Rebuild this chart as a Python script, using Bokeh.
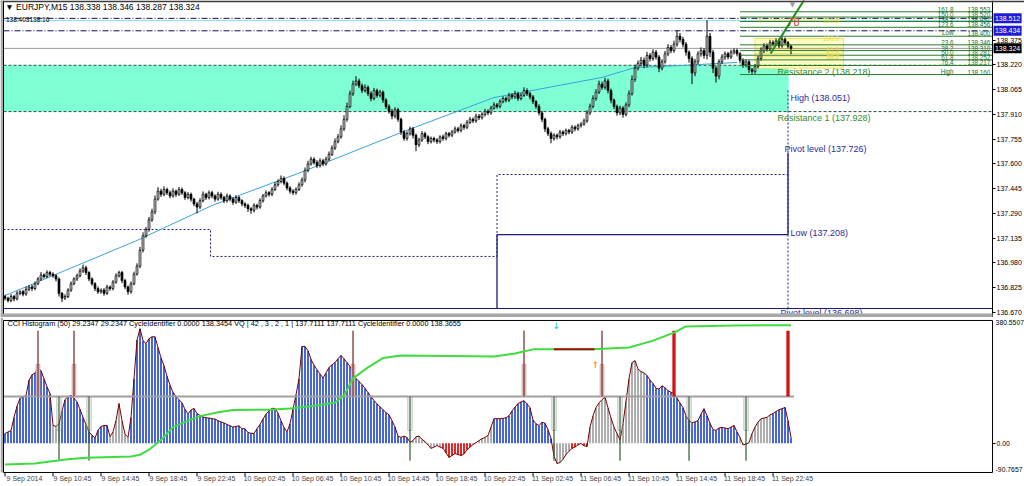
from bokeh.plotting import figure
from bokeh.layouts import column
from bokeh.models import Range1d, LinearAxis, FixedTicker, BoxAnnotation
from bokeh.core.properties import value
from bokeh.embed import file_html
from bokeh.resources import INLINE

FONT = "Liberation Sans"

# ---------------- price data (EURJPY M15), one value per bar ----------------
FIRST_OPEN = 136.770
CLOSE = [
    136.760, 136.745, 136.770, 136.755, 136.790, 136.800, 136.785, 136.815, 136.830, 136.820, 136.850, 136.880, 136.905, 136.895, 136.920, 136.910,
    136.900, 136.880, 136.790, 136.760, 136.770, 136.810, 136.850, 136.880, 136.900, 136.930, 136.950, 136.920, 136.880, 136.850, 136.820, 136.800,
    136.810, 136.790, 136.830, 136.820, 136.860, 136.900, 136.920, 136.870, 136.830, 136.800, 136.850, 136.910, 136.960, 137.060, 137.150, 137.190,
    137.250, 137.300, 137.380, 137.430, 137.410, 137.440, 137.420, 137.400, 137.430, 137.410, 137.440, 137.420, 137.390, 137.410, 137.380, 137.350,
    137.330, 137.370, 137.410, 137.390, 137.420, 137.400, 137.380, 137.410, 137.390, 137.370, 137.400, 137.380, 137.360, 137.390, 137.370, 137.350,
    137.340, 137.320, 137.310, 137.340, 137.330, 137.370, 137.400, 137.420, 137.410, 137.440, 137.470, 137.490, 137.510, 137.480, 137.450, 137.430,
    137.420, 137.440, 137.470, 137.500, 137.560, 137.600, 137.630, 137.610, 137.590, 137.620, 137.600, 137.630, 137.660, 137.700, 137.740, 137.770,
    137.820, 137.880, 137.960, 138.040, 138.100, 138.120, 138.090, 138.060, 138.080, 138.040, 138.010, 138.060, 138.030, 138.050, 138.000, 137.960,
    137.930, 137.900, 137.940, 137.880, 137.800, 137.760, 137.790, 137.820, 137.780, 137.720, 137.750, 137.790, 137.770, 137.740, 137.760, 137.750,
    137.740, 137.770, 137.760, 137.790, 137.780, 137.800, 137.820, 137.810, 137.840, 137.830, 137.860, 137.880, 137.870, 137.900, 137.890, 137.910,
    137.930, 137.920, 137.950, 137.970, 137.960, 137.990, 138.010, 138.000, 138.030, 138.020, 138.040, 138.010, 138.030, 138.060, 138.040, 138.020,
    137.990, 137.960, 137.920, 137.880, 137.820, 137.790, 137.760, 137.780, 137.770, 137.800, 137.790, 137.810, 137.800, 137.830, 137.820, 137.840,
    137.850, 137.870, 137.920, 137.960, 138.010, 138.050, 138.100, 138.080, 138.120, 138.060, 138.000, 137.960, 137.920, 137.950, 137.910, 137.970,
    138.040, 138.130, 138.200, 138.230, 138.250, 138.220, 138.280, 138.260, 138.300, 138.270, 138.200, 138.240, 138.290, 138.330, 138.310, 138.350,
    138.400, 138.380, 138.350, 138.300, 138.260, 138.170, 138.240, 138.290, 138.310, 138.280, 138.400, 138.300, 138.200, 138.150, 138.240, 138.270,
    138.290, 138.270, 138.300, 138.310, 138.290, 138.250, 138.220, 138.240, 138.190, 138.180, 138.210, 138.260, 138.310, 138.340, 138.320, 138.360,
    138.350, 138.370, 138.340, 138.380, 138.360, 138.338, 138.324,
]
# wick lengths above / below the body, in thousandths of a yen
UPPER_WICK = [
    12, 8, 15, 10, 14, 9, 12, 16, 10, 13, 15, 12, 18, 10, 14, 11,
    12, 9, 10, 8, 14, 12, 15, 10, 13, 16, 20, 12, 9, 11, 10, 13,
    10, 12, 14, 9, 13, 15, 12, 10, 11, 9, 14, 16, 18, 20, 22, 15,
    18, 20, 22, 25, 15, 20, 12, 14, 18, 10, 16, 12, 10, 14, 11, 9,
    12, 15, 18, 10, 14, 12, 10, 16, 12, 11, 15, 10, 12, 14, 10, 9,
    10, 12, 9, 14, 11, 15, 12, 14, 10, 15, 16, 14, 18, 12, 10, 11,
    12, 14, 15, 16, 18, 20, 15, 12, 14, 16, 12, 15, 18, 16, 20, 18,
    22, 25, 24, 20, 22, 30, 15, 14, 18, 12, 15, 16, 12, 14, 10, 12,
    14, 15, 16, 12, 10, 12, 15, 14, 12, 10, 14, 16, 12, 10, 12, 11,
    12, 10, 14, 12, 11, 13, 15, 12, 14, 12, 15, 14, 12, 15, 13, 14,
    15, 12, 14, 16, 12, 15, 14, 12, 16, 14, 18, 12, 15, 20, 14, 12,
    12, 10, 14, 12, 10, 12, 14, 12, 10, 13, 11, 12, 10, 14, 12, 13,
    12, 14, 16, 18, 20, 18, 22, 15, 20, 14, 12, 10, 12, 15, 12, 16,
    20, 25, 22, 18, 20, 16, 22, 15, 18, 14, 12, 16, 18, 20, 15, 22,
    36, 20, 15, 14, 12, 15, 18, 16, 20, 15, 100, 20, 15, 12, 16, 18,
    15, 12, 16, 14, 12, 10, 12, 14, 10, 12, 15, 18, 20, 16, 14, 18,
    15, 16, 14, 15, 12, 10, 8,
]
LOWER_WICK = [
    14, 12, 10, 15, 9, 12, 14, 10, 12, 15, 11, 9, 13, 12, 10, 14,
    12, 15, 20, 25, 12, 10, 11, 9, 12, 10, 12, 15, 14, 12, 16, 14,
    12, 15, 10, 14, 12, 10, 11, 16, 14, 18, 12, 10, 9, 12, 14, 12,
    14, 12, 15, 10, 16, 12, 14, 15, 11, 16, 10, 14, 15, 12, 16, 14,
    40, 12, 10, 15, 12, 14, 16, 10, 14, 15, 12, 14, 16, 10, 14, 15,
    16, 20, 22, 14, 15, 10, 12, 10, 14, 12, 10, 12, 11, 14, 15, 16,
    14, 12, 10, 12, 15, 12, 10, 14, 16, 12, 14, 10, 12, 10, 12, 11,
    12, 14, 15, 12, 14, 12, 15, 16, 12, 15, 18, 12, 16, 14, 18, 16,
    15, 20, 14, 16, 18, 15, 14, 12, 20, 40, 15, 12, 14, 16, 12, 15,
    14, 12, 15, 12, 14, 12, 10, 14, 12, 15, 12, 10, 14, 12, 15, 12,
    12, 14, 12, 10, 14, 12, 10, 15, 12, 14, 12, 15, 12, 10, 14, 16,
    15, 14, 16, 18, 20, 15, 30, 14, 16, 12, 15, 12, 14, 12, 15, 12,
    12, 10, 12, 14, 12, 15, 12, 16, 14, 18, 20, 16, 18, 14, 20, 12,
    15, 12, 16, 14, 18, 20, 15, 18, 14, 16, 25, 14, 12, 15, 16, 14,
    15, 18, 20, 22, 25, 70, 20, 16, 18, 20, 25, 30, 30, 40, 20, 16,
    18, 15, 12, 14, 16, 20, 18, 15, 20, 22, 15, 12, 14, 15, 16, 12,
    14, 12, 15, 12, 14, 14, 37,
]

# slow moving average (light blue) read at a few bars
MA_I = [0, 44, 69, 99, 132, 163, 199, 210, 226, 244]
MA_V = [136.776, 137.121, 137.340, 137.550, 137.797, 138.016, 138.142, 138.204, 138.217, 138.236]

# pivot / resistance levels
R2, R1 = 138.218, 137.928
ZONE_END = 261.2
PIVOT_LOW_LINE = 136.695
BID = 138.324
HLINE_DASHDOT = [138.512, 138.434]
HLINE_CYAN = 138.499
DOT_STEP_X = [-0.5, 68.5, 68.5, 164, 164, 261]
DOT_STEP_Y = [137.190, 137.190, 137.021, 137.021, 137.534, 137.534]
DOT_VERT = (261, 138.060, 136.695)
SOLID_STEP_X = [164, 164, 261, 261]
SOLID_STEP_Y = [136.695, 137.158, 137.158, 137.670]
PIVOT_TEXT = ["Resistance 2 (138.218)", "High (138.051)", "Resistance 1 (137.928)",
              "Pivot level (137.726)", "Low (137.208)", "Pivot level (136.698)"]
PIVOT_TEXT_X = [257.5, 261.8, 257.5, 259.8, 261.8, 258.5]
PIVOT_TEXT_Y = [138.179, 138.016, 137.891, 137.691, 137.165, 136.668]
PIVOT_TEXT_C = ["#2E8B2E", "#2B2B9B", "#2E8B2E", "#2B2B9B", "#2B2B9B", "#2B2B9B"]

# fibonacci (green) levels on the right
FIB_LABELS = ["161.8", "150.0", "138.2", "123.6", "Low", "23.6", "38.2", "50.0", "61.8", "76.4", "High"]
FIB_PRICES = [138.553, 138.520, 138.492, 138.456, 138.400, 138.346, 138.310, 138.281, 138.252, 138.217, 138.160]
FIB_START = 245
# second (yellow) fibonacci
YFIB_LABELS = ["161.8", "100.0", "61.8", "50.0", "38.2"]
YFIB_PRICES = [138.501, 138.386, 138.315, 138.293, 138.271]
YFIB_BASE = 138.200
YFIB_X = (250, 279.5)
TREND_X = [255.2, 266.8]
TREND_Y = [138.292, 138.640]

PRICE_TICKS = [138.375, 138.220, 138.065, 137.910, 137.755, 137.600, 137.445,
               137.290, 137.135, 136.980, 136.825, 136.670]
PRICE_BOXES = [138.512, 138.434, 138.324]
PRICE_BOX_COLORS = ["#1C1CD2", "#1C1CD2", "#000000"]

# ---------------- indicator data ----------------
CCI = [
    30, 35, 39, 80, 115, 139, 143, 148, 195, 212, 218, 232, 225, 200, 175, 154,
    55, 52, 60, 100, 135, 144, 148, 140, 128, 105, 80, 58, 35, 25, 16, 40,
    52, 55, 55, 20, 35, 70, 123, 70, 28, 18, 80, 200, 320, 355, 318, 309,
    324, 330, 330, 297, 265, 240, 208, 180, 158, 145, 135, 125, 105, 91, 103, 108,
    92, 86, 81, 79, 78, 76, 75, 70, 66, 63, 58, 54, 50, 52, 54, 45,
    45, 33, 31, 30, 45, 58, 75, 90, 100, 108, 108, 93, 70, 49, 35, 60,
    105, 150, 200, 300, 300, 287, 260, 242, 228, 215, 202, 218, 235, 243, 250, 262,
    272, 262, 250, 238, 220, 200, 192, 182, 170, 157, 145, 132, 122, 113, 104, 95,
    88, 70, 50, 22, 18, 22, 18, 3, 8, 20, 22, 12, 5, -5, -16, -12,
    -7, -12, -16, -30, -44, -38, -32, -35, -38, -33, -20, -12, -4, 2, 8, 14,
    18, 24, 50, 76, 76, 76, 77, 79, 85, 100, 112, 123, 128, 132, 122, 110,
    72, 60, 55, 65, 62, 42, 15, -40, -63, -60, -50, -35, -25, -16, -12, -5,
    -1, -8, -10, 50, 85, 111, 125, 135, 142, 110, 78, 50, 30, 10, 60, 130,
    200, 250, 256, 230, 222, 218, 210, 196, 185, 170, 168, 178, 172, 163, 158, 154,
    140, 125, 110, 85, 70, 64, 66, 70, 90, 107, 85, 62, 42, 40, 47, 49,
    47, 45, 50, 55, 35, 18, -5, -3, 2, 30, 50, 65, 76, 78, 80, 88,
    92, 98, 104, 107, 111, 70, 18,
]
CCI_STATE = ("BBBBBBBBBBBBBBBB" "GGGBBBBBBBBBBBBB" "BBBGGGGGGGBBBBBB" "BBBBBBBBBBBBBBBB"
             "BBBBBBBBBBBBBBBB" "BBBBBBBBBBBBBBBB" "BBBBBBBBBBBBBBBB" "BBBBBBBBBBBBBBBB"
             "BBBBBBBGGGGGGGGG" "GGRRRRRRRRRRGGGG" "GGGBBBBBBBBBBBBB" "BBBBBBBGGGGGGRRR"
             "RRRGGGGGGGGGGGGG" "GGGGGGBBBBBBBBBB" "BBBBBBBBBBBBBBBB" "BBBBBGGGGGGGGGGG"
             "BBBBBBB")
GREEN_I = [0, 10, 15, 21, 27, 42, 45, 48, 52, 56, 61, 65, 71, 76, 88, 95, 104, 110, 113, 116,
           121, 126, 132, 163, 170, 176, 196, 208, 216, 223, 227, 243, 262]
GREEN_V = [-66, -63, -57, -50, -45, -41, -36, -20, 10, 50, 70, 84, 96, 103, 104, 108, 117, 126, 148, 201,
           235, 264, 272, 269, 278, 291, 291, 297, 318, 343, 362, 365, 366]
CCI_LEVEL = 145
SPIKE_UP_I = [11, 23, 116, 173, 199]
SPIKE_HOT_I = [223, 261]
SPIKE_DOWN_I = [18, 28, 135, 183, 205, 228, 247]
SPIKE_TOP, SPIKE_MID, SPIKE_LOW, SPIKE_BOTTOM = 349, 245, 40, -54
RED_SEG = (183, 196.5, 291)
ARROW_DOWN = (183.8, 362)
ARROW_UP = (196.8, 241)
IND_TOP, IND_BOTTOM = 380.5507, -90.7657
IND_TOP_LABEL, IND_BOTTOM_LABEL = "380.5507", "-90.7657"
IND_TICKS = [0.0]
IND_TICK_LABELS = ["0.00"]

TICK_IDX = [0, 16, 32, 48, 64, 80, 96, 112, 128, 144, 160, 176, 192, 208, 224, 240, 256]
TICK_LABELS = ["9 Sep 2014", "9 Sep 10:45", "9 Sep 14:45", "9 Sep 18:45", "9 Sep 22:45",
               "10 Sep 02:45", "10 Sep 06:45", "10 Sep 10:45", "10 Sep 14:45", "10 Sep 18:45",
               "10 Sep 22:45", "11 Sep 02:45", "11 Sep 06:45", "11 Sep 10:45", "11 Sep 14:45",
               "11 Sep 18:45", "11 Sep 22:45"]

HEADER = "\u25bc EURJPY,M15  138.338 138.346 138.287 138.324"
SUBHEADER = "138.403138.16"
IND_HEADER = ("CCI Histogram (50) 29.2347 29.2347  CycleIdentifier 0.0000 138.3454  VQ |  42 , 3 , 2 , 1  |"
              "  137.7111 137.7111  CycleIdentifier 0.0000 138.3655")

# ---------------- derived candle geometry ----------------
n = len(CLOSE)
idx = list(range(n))
opens = [FIRST_OPEN] + CLOSE[:-1]
body_top = [max(o, c) for o, c in zip(opens, CLOSE)]
body_bot = [min(o, c) for o, c in zip(opens, CLOSE)]
highs = [t + u / 1000 for t, u in zip(body_top, UPPER_WICK)]
lows = [b - w / 1000 for b, w in zip(body_bot, LOWER_WICK)]
fills = ["white" if c > o else "black" for o, c in zip(opens, CLOSE)]

# ---------------- layout: frames cover the whole page, axes at fixed spots ----------------
W = 1024
H1, H2 = 317, 169
XMIN, XMAX = -1.5, 339.83          # 3 px per bar
AXIS_X = 329.17
BOX_X = 334.2
SCALE_LABEL_X = 330.2
XR = Range1d(XMIN, XMAX)
P_MIN, P_MAX = 136.6387, 138.6237
SEPARATOR_TOP = 136.664
I_MIN, I_MAX = -134.2, 389.8
TICK_LEN = 12.4


def base_fig(h, yr):
    f = figure(width=W, height=h, x_range=XR, y_range=yr, output_backend="svg",
               toolbar_location=None, x_axis_location=None, y_axis_location=None,
               min_border_left=0, min_border_right=0, min_border_top=0, min_border_bottom=0,
               background_fill_color="white", border_fill_color="white",
               outline_line_color=None)
    f.grid.visible = False
    return f


def right_axis(ticks, labels, size, line=True):
    ax = LinearAxis(ticker=FixedTicker(ticks=ticks),
                    major_label_overrides=dict(zip(ticks, labels)),
                    fixed_location=AXIS_X)
    ax.axis_line_color = "black" if line else None
    ax.major_tick_line_color = "black"
    ax.major_tick_out = 3
    ax.major_tick_in = 0
    ax.minor_tick_line_color = None
    ax.major_label_text_font = FONT
    ax.major_label_text_font_size = size
    ax.major_label_standoff = 1
    ax.major_label_text_color = "black"
    return ax


# ================= PRICE PANEL =================
p1 = base_fig(H1, Range1d(P_MIN, P_MAX))

p1.quad(left=[-0.5], right=[ZONE_END], bottom=[R1], top=[R2], fill_color="#7FFFD4", line_color=None)
p1.quad(left=[YFIB_X[0]], right=[YFIB_X[1]], bottom=[YFIB_BASE], top=[YFIB_PRICES[1]],
        fill_color="#FFFFC4", line_color="#F2E15A", line_width=1)

p1.segment(x0=[-0.5], x1=[AXIS_X], y0=[HLINE_CYAN], y1=[HLINE_CYAN], line_color="#8EDDEB", line_width=1)
p1.segment(x0=[-0.5] * 2, x1=[AXIS_X] * 2, y0=HLINE_DASHDOT, y1=HLINE_DASHDOT,
           line_color="#10105E", line_width=1, line_dash="6 2 1 2")
p1.segment(x0=[-0.5], x1=[AXIS_X], y0=[BID], y1=[BID], line_color="#9A9A9A", line_width=1)
p1.segment(x0=[-0.5] * 2, x1=[AXIS_X] * 2, y0=[R2, R1], y1=[R2, R1],
           line_color="#2F4F3F", line_width=1, line_dash="3 2")
p1.segment(x0=[-0.5], x1=[AXIS_X], y0=[PIVOT_LOW_LINE], y1=[PIVOT_LOW_LINE], line_color="#1A1A80", line_width=1)
p1.line(DOT_STEP_X, DOT_STEP_Y, line_color="#1A1A80", line_width=1, line_dash="2 2")
p1.segment(x0=[DOT_VERT[0]], x1=[DOT_VERT[0]], y0=[DOT_VERT[1]], y1=[DOT_VERT[2]],
           line_color="#1A1A80", line_width=1, line_dash="2 2")
p1.line(SOLID_STEP_X, SOLID_STEP_Y, line_color="#1A1A80", line_width=1.3)

# yellow fib levels
p1.segment(x0=[YFIB_X[0]] * len(YFIB_PRICES), x1=[YFIB_X[1]] * len(YFIB_PRICES),
           y0=YFIB_PRICES, y1=YFIB_PRICES, line_color="#F2E15A", line_width=1)

p1.line(MA_I, MA_V, line_color="#3BA3D9", line_width=1)

# candles
p1.segment(x0=idx, x1=idx, y0=lows, y1=highs, line_color="black", line_width=1)
p1.vbar(x=idx, width=0.6, top=body_top, bottom=body_bot, fill_color=fills,
        line_color="black", line_width=0.8)

# green fib lines + labels
nf = len(FIB_PRICES)
p1.segment(x0=[FIB_START] * nf, x1=[AXIS_X] * nf, y0=FIB_PRICES, y1=FIB_PRICES,
           line_color="#2A7A2A", line_width=1)
p1.text(x=[316.2] * nf, y=FIB_PRICES, text=FIB_LABELS, text_align="right", text_baseline="bottom",
        text_font=value(FONT), text_font_size="6.3px", text_color="#1F6F1F")
p1.text(x=[320.8] * nf, y=FIB_PRICES, text=[f"{v:.3f}" for v in FIB_PRICES], text_align="left",
        text_baseline="bottom", text_font=value(FONT), text_font_size="6.3px", text_color="#1F6F1F")
p1.text(x=[YFIB_X[1] - 1.5] * len(YFIB_PRICES), y=YFIB_PRICES, text=YFIB_LABELS, text_align="right",
        text_baseline="middle", text_font=value(FONT), text_font_size="6.5px", text_color="#E6D35A")

p1.line(TREND_X, TREND_Y, line_color="#1E8C1E", line_width=2)
p1.text(x=[262.8], y=[138.486], text=["78"], text_align="center", text_baseline="middle",
        text_font=value(FONT), text_font_size="11px", text_color="#C04848")
p1.text(x=[262.5], y=[138.595], text=["\u25bc"], text_align="center", text_baseline="middle",
        text_font=value("DejaVu Sans"), text_font_size="7px", text_color="#A0A0A0")

p1.text(x=PIVOT_TEXT_X, y=PIVOT_TEXT_Y, text=PIVOT_TEXT, text_color=PIVOT_TEXT_C,
        text_align="left", text_baseline="middle", text_font=value(FONT), text_font_size="9px")

p1.text(x=[0.1], y=[138.580], text=[HEADER], text_align="left", text_baseline="middle",
        text_font=value(FONT), text_font_size="8.5px", text_color="black")
p1.text(x=[0.3], y=[138.505], text=[SUBHEADER], text_align="left", text_baseline="middle",
        text_font=value(FONT), text_font_size="6.5px", text_color="black")

# window borders and panel separator
p1.add_layout(BoxAnnotation(left=XMIN, right=XMAX, bottom=138.612, top=P_MAX,
                            fill_color="#3C3C3C", fill_alpha=1, line_color=None))
p1.add_layout(BoxAnnotation(left=XMIN, right=-0.7, bottom=P_MIN, top=P_MAX,
                            fill_color="#A8A8A8", fill_alpha=1, line_color=None))
p1.segment(x0=[-0.5], x1=[-0.5], y0=[P_MIN], y1=[P_MAX], line_color="black", line_width=1)
p1.add_layout(BoxAnnotation(left=XMIN, right=AXIS_X, bottom=P_MIN, top=SEPARATOR_TOP,
                            fill_color="#A8A8A8", fill_alpha=1, line_color=None))

# price labels of the horizontal lines, drawn on the axis
p1.rect(x=[BOX_X] * len(PRICE_BOXES), y=PRICE_BOXES, width=28, height=10, width_units="screen",
        height_units="screen", fill_color=PRICE_BOX_COLORS, line_color=None)
p1.text(x=[BOX_X] * len(PRICE_BOXES), y=PRICE_BOXES, text=[f"{v:.3f}" for v in PRICE_BOXES],
        text_align="center", text_baseline="middle", text_font=value(FONT), text_font_size="7px",
        text_color="white")

p1.add_layout(right_axis(PRICE_TICKS, [f"{t:.3f}" for t in PRICE_TICKS], "7px"), "right")

# ================= INDICATOR PANEL =================
p2 = base_fig(H2, Range1d(I_MIN, I_MAX))

state_color = {"B": "#3A5CD6", "G": "#A8A8A8", "R": "#E01818"}
p2.vbar(x=idx, top=CCI, bottom=0, width=0.62, fill_color=[state_color[s] for s in CCI_STATE],
        line_color=None)
p2.line(idx, CCI, line_color="#7A0000", line_width=1)
p2.segment(x0=[-0.5], x1=[n], y0=[CCI_LEVEL], y1=[CCI_LEVEL], line_color="#A0A0A0", line_width=2)

# cycle spikes
nu = len(SPIKE_UP_I)
p2.vbar(x=SPIKE_UP_I, top=[SPIKE_MID] * nu, bottom=[CCI_LEVEL] * nu, width=1.3,
        fill_color="#E2C8C8", line_color="#B89898", line_width=0.6)
p2.segment(x0=SPIKE_UP_I, x1=SPIKE_UP_I, y0=[CCI_LEVEL] * nu, y1=[SPIKE_TOP] * nu,
           line_color="#7A2020", line_width=1.2)
nh = len(SPIKE_HOT_I)
p2.vbar(x=SPIKE_HOT_I, top=[SPIKE_TOP] * nh, bottom=[CCI_LEVEL] * nh, width=1.1,
        fill_color="#D01515", line_color=None)
nd = len(SPIKE_DOWN_I)
p2.vbar(x=SPIKE_DOWN_I, top=[CCI_LEVEL] * nd, bottom=[SPIKE_LOW] * nd, width=1.4,
        fill_color=None, line_color="#A8A8A8", line_width=0.8)
p2.segment(x0=SPIKE_DOWN_I, x1=SPIKE_DOWN_I, y0=[CCI_LEVEL] * nd, y1=[SPIKE_BOTTOM] * nd,
           line_color="#2E5E2E", line_width=1.2)

p2.line(GREEN_I, GREEN_V, line_color="#3EDC3E", line_width=2)
p2.segment(x0=[RED_SEG[0]], x1=[RED_SEG[1]], y0=[RED_SEG[2]], y1=[RED_SEG[2]],
           line_color="#A01010", line_width=2)
p2.text(x=[ARROW_DOWN[0]], y=[ARROW_DOWN[1]], text=["\u2193"], text_align="center",
        text_baseline="middle", text_font=value("DejaVu Sans"), text_font_size="9px",
        text_color="#38C8E8", text_font_style="bold")
p2.text(x=[ARROW_UP[0]], y=[ARROW_UP[1]], text=["\u2191"], text_align="center",
        text_baseline="middle", text_font=value("DejaVu Sans"), text_font_size="9px",
        text_color="#E89A3A", text_font_style="bold")

p2.text(x=[0.8], y=[371], text=[IND_HEADER], text_align="left", text_baseline="middle",
        text_font=value(FONT), text_font_size="7.3px", text_color="black")

# window borders of the indicator
p2.add_layout(BoxAnnotation(left=XMIN, right=-0.7, bottom=IND_BOTTOM, top=I_MAX,
                            fill_color="#A8A8A8", fill_alpha=1, line_color=None))
p2.segment(x0=[-0.5], x1=[AXIS_X], y0=[IND_TOP], y1=[IND_TOP], line_color="black", line_width=1)
p2.segment(x0=[-0.5], x1=[-0.5], y0=[IND_BOTTOM], y1=[IND_TOP], line_color="black", line_width=1)
p2.segment(x0=[-0.5], x1=[AXIS_X], y0=[IND_BOTTOM], y1=[IND_BOTTOM], line_color="black", line_width=1)
p2.segment(x0=[AXIS_X], x1=[AXIS_X], y0=[IND_BOTTOM], y1=[IND_TOP], line_color="black", line_width=1)
# time tick marks hanging under the axis line
p2.segment(x0=TICK_IDX, x1=TICK_IDX, y0=[IND_BOTTOM] * len(TICK_IDX),
           y1=[IND_BOTTOM - TICK_LEN] * len(TICK_IDX), line_color="black", line_width=1)
# scale bounds written inside the window, as MetaTrader does
p2.text(x=[SCALE_LABEL_X] * 2, y=[IND_TOP, IND_BOTTOM], text=[IND_TOP_LABEL, IND_BOTTOM_LABEL],
        text_align="left", text_baseline=["top", "bottom"], text_font=value(FONT),
        text_font_size="6.8px", text_color="black")

p2.add_layout(right_axis(IND_TICKS, IND_TICK_LABELS, "6.8px", line=False), "right")

LABEL_SHIFT = 6.5
label_pos = [t + LABEL_SHIFT for t in TICK_IDX]
ax_labels = LinearAxis(ticker=FixedTicker(ticks=label_pos),
                       major_label_overrides=dict(zip(label_pos, TICK_LABELS)),
                       fixed_location=IND_BOTTOM,
                       major_label_text_font=FONT, major_label_text_font_size="7px",
                       major_label_standoff=3, major_tick_out=0, major_tick_in=0,
                       major_tick_line_color=None, axis_line_color=None, minor_tick_line_color=None)
p2.add_layout(ax_labels, "below")

layout = column(p1, p2, spacing=0)
open("out.html", "w").write(file_html(layout, INLINE))
